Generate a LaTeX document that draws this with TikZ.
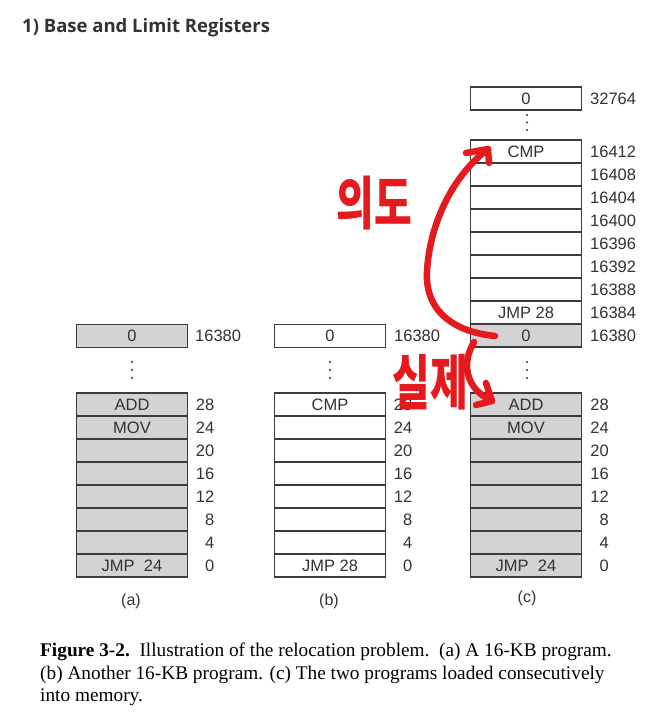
\documentclass[tikz,border=0pt]{standalone}
\usepackage{fontspec}
\setmainfont{Liberation Serif}
\newfontfamily\cellfont{Liberation Sans}
\newfontfamily\titlefont{Open Sans}
\newfontfamily\krfont{Noto Sans CJK KR}
\definecolor{linec}{HTML}{3C3C3C}
\definecolor{cellgray}{HTML}{D3D3D3}
\definecolor{pen}{HTML}{E51A1F}
\definecolor{txt}{HTML}{333333}
\tikzset{
  cell/.style={draw=linec, line width=1.1pt, minimum width=111pt, minimum height=23pt,
    inner sep=0pt, outer sep=0pt, anchor=north west, text=txt,
    font=\cellfont\fontsize{16.5}{16.5}\selectfont},
  gcell/.style={cell, fill=cellgray},
  addr/.style={font=\cellfont\fontsize{16.5}{16.5}\selectfont, text=txt, inner sep=0pt},
  sublabel/.style={font=\cellfont\fontsize{16}{16}\selectfont, text=txt, inner sep=0pt},
  vdot/.style={circle, fill=txt, inner sep=0pt, minimum size=2.2pt},
  penline/.style={draw=pen, line width=6.5pt, line cap=round, line join=round},
  hand/.style={text=pen, draw=none, inner sep=0pt, font=\krfont\bfseries\fontsize{41}{41}\selectfont},
  capline/.style={anchor=base west, inner sep=0pt, text=black, font=\fontsize{19.3}{23}\selectfont}
}
\begin{document}
\begin{tikzpicture}[x=1pt,y=-1pt]
\useasboundingbox (0,0) rectangle (658,715);
\fill[white] (0,0) rectangle (658,715);

% title
\node[anchor=base west, inner sep=0pt, text=txt, font=\titlefont\bfseries\fontsize{18.5}{20}\selectfont]
  (title) at (22,32) {1) Base and Limit Registers};

% ---------- (a) ----------
\node[gcell] (atop) at (76.5,324.5) {0};
\node[addr, anchor=west] (atopl) at (195,336) {16380};
\foreach \yy [count=\k] in {362,370,378} \node[vdot] (adot\k) at (132,\yy) {};
\foreach \t [count=\i from 0] in {ADD,MOV,{},{},{},{},{},{JMP\ \ 24}}
  \node[gcell] (a\i) at (76.5,393+23*\i) {\t};
\foreach \t [count=\i from 0] in {28,24,20,16,12,8,4,0}
  \node[addr, anchor=east] (al\i) at (214.5,404.5+23*\i) {\t};
\node[sublabel] (asub) at (131,601) {(a)};

% ---------- (b) ----------
\node[cell] (btop) at (274.5,324.5) {0};
\node[addr, anchor=west] (btopl) at (394,336) {16380};
\foreach \yy [count=\k] in {362,370,378} \node[vdot] (bdot\k) at (330,\yy) {};
\foreach \t [count=\i from 0] in {CMP,{},{},{},{},{},{},{JMP 28}}
  \node[cell] (b\i) at (274.5,393+23*\i) {\t};
\foreach \t [count=\i from 0] in {28,24,20,16,12,8,4,0}
  \node[addr, anchor=east] (bl\i) at (412.5,404.5+23*\i) {\t};
\node[sublabel] (bsub) at (329,601) {(b)};

% ---------- (c) ----------
\node[cell] (ctop) at (470.5,87) {0};
\node[addr, anchor=west] (ctopl) at (590,98.5) {32764};
\foreach \yy [count=\k] in {115,122.5,130} \node[vdot] (cdotu\k) at (527,\yy) {};
\foreach \t [count=\i from 0] in {CMP,{},{},{},{},{},{},{JMP 28}}
  \node[cell] (cu\i) at (470.5,140+23*\i) {\t};
\node[gcell] (cu8) at (470.5,324) {0};
\foreach \t [count=\i from 0] in {16412,16408,16404,16400,16396,16392,16388,16384,16380}
  \node[addr, anchor=west] (cul\i) at (590,151.5+23*\i) {\t};
\foreach \yy [count=\k] in {362,370,378} \node[vdot] (cdotl\k) at (527,\yy) {};
\foreach \t [count=\i from 0] in {ADD,MOV,{},{},{},{},{},{JMP\ \ 24}}
  \node[gcell] (c\i) at (470.5,393+23*\i) {\t};
\foreach \t [count=\i from 0] in {28,24,20,16,12,8,4,0}
  \node[addr, anchor=east] (cl\i) at (609,404.5+23*\i) {\t};
\node[sublabel] (csub) at (527,598) {(c)};

% ---------- red annotations ----------
\coordinate (s1) at (495,336);
\coordinate (t1) at (488,149);
\coordinate (t1a) at (466,153);
\coordinate (t1b) at (489,163);
\draw[penline] (s1) .. controls (455,332) and (425,312) .. (427,272)
  .. controls (429,228) and (450,178) .. (t1);
\draw[penline] (t1a) -- (t1) -- (t1b);
\coordinate (s2) at (474,342);
\coordinate (t2) at (492,401);
\coordinate (t2a) at (486,383);
\coordinate (t2b) at (476,405);
\draw[penline] (s2) .. controls (462,362) and (464,388) .. (t2);
\draw[penline] (t2a) -- (t2) -- (t2b);
\node[hand, yscale=1.4] (intent) at (374,203) {의도};
\node[hand, yscale=1.45] (actual) at (430,382) {실제};

% ---------- caption ----------
\node[capline] (cap1) at (40,656) {\textbf{Figure 3-2.}\ \ Illustration of the relocation problem.\ \ (a) A 16-KB program.};
\node[capline] (cap2) at (40,679) {(b) Another 16-KB program. (c) The two programs loaded consecutively};
\node[capline] (cap3) at (40,701) {into memory.};
\end{tikzpicture}
\end{document}
